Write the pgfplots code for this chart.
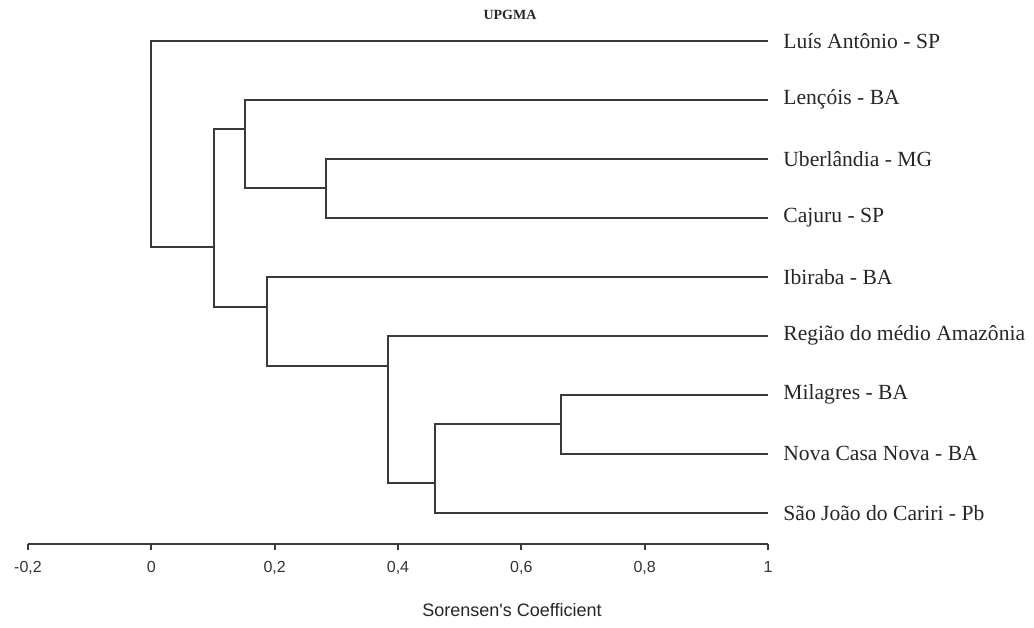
\documentclass[border=0pt]{standalone}
\usepackage{fontspec}
\setmainfont{Liberation Serif}
\newfontfamily\arial{Liberation Sans}
\usepackage{pgfplots}
\pgfplotsset{compat=1.18}
\definecolor{ln}{HTML}{3A3A3A}
\tikzset{leaf/.style={anchor=west, inner sep=0pt, xshift=7.5pt, font=\fontsize{10.8}{12}\selectfont, text=black!85}}
\pgfplotsset{dend/.style={color=ln, solid, line width=1pt, mark=none}}
\begin{document}
\begin{tikzpicture}
\path[use as bounding box] (0,0) rectangle (517pt,-313.5pt);
\begin{axis}[
  at={(14pt,0pt)}, anchor=north west,
  scale only axis, width=370pt, height=272pt,
  xmin=-0.2, xmax=1, ymin=-0.69, ymax=8.531,
  y dir=reverse,
  axis x line=bottom, axis y line=none,
  x axis line style={-, color=ln, line width=1pt},
  xtick={-0.2,0,0.2,0.4,0.6,0.8,1},
  xticklabels={{-0,2},{0},{0,2},{0,4},{0,6},{0,8},{1}},
  tick align=outside, major tick length=3pt,
  tick style={color=ln, line width=1pt},
  xticklabel style={font=\arial\fontsize{8}{9}\selectfont, text=black!80, yshift=-2pt},
  clip=false,
]
% Node A (Milagres / Nova Casa Nova)
\addplot[dend] coordinates {(1,6) (0.665,6) (0.665,7) (1,7)};
% Node B (A / Sao Joao do Cariri)
\addplot[dend] coordinates {(0.665,6.5) (0.460,6.5) (0.460,8) (1,8)};
% Node C (Regiao / B)
\addplot[dend] coordinates {(1,5) (0.383,5) (0.383,7.5) (0.460,7.5)};
% Node D (Ibiraba / C)
\addplot[dend] coordinates {(1,4) (0.187,4) (0.187,5.51) (0.383,5.51)};
% Node E (Uberlandia / Cajuru)
\addplot[dend] coordinates {(1,2) (0.284,2) (0.284,3) (1,3)};
% Node F (Lencois / E)
\addplot[dend] coordinates {(1,1) (0.152,1) (0.152,2.5) (0.284,2.5)};
% Node G (F / D)
\addplot[dend] coordinates {(0.152,1.5) (0.102,1.5) (0.102,4.51) (0.187,4.51)};
% Root (Luis Antonio / G)
\addplot[dend] coordinates {(1,0) (0,0) (0,3.49) (0.102,3.49)};
\node[leaf] at (axis cs:1,0) {Luís Antônio - SP};
\node[leaf] at (axis cs:1,1) {Lençóis - BA};
\node[leaf] at (axis cs:1,2) {Uberlândia - MG};
\node[leaf] at (axis cs:1,3) {Cajuru - SP};
\node[leaf] at (axis cs:1,4) {Ibiraba - BA};
\node[leaf] at (axis cs:1,5) {Região do médio Amazônia};
\node[leaf] at (axis cs:1,6) {Milagres - BA};
\node[leaf] at (axis cs:1,7) {Nova Casa Nova - BA};
\node[leaf] at (axis cs:1,8) {São João do Cariri - Pb};
\end{axis}
\node[font=\fontsize{7}{8}\selectfont\bfseries, text=black!85] at (255pt,-7.5pt) {UPGMA};
\node[font=\arial\fontsize{9}{10}\selectfont, text=black!85] at (256pt,-305pt) {Sorensen's Coefficient};
\end{tikzpicture}
\end{document}
